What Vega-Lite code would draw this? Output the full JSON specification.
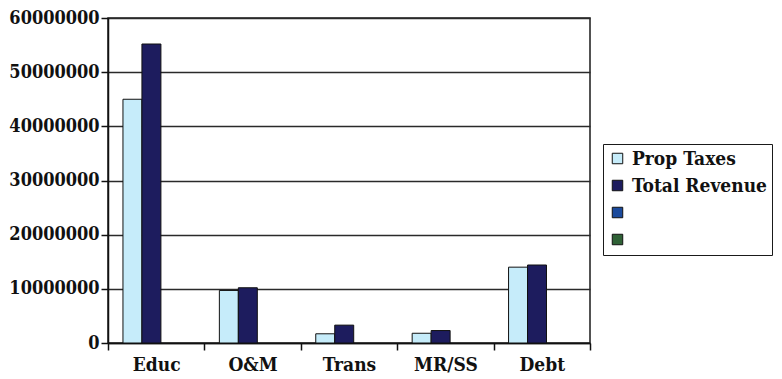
{
  "$schema": "https://vega.github.io/schema/vega-lite/v6.json",
  "width": 482,
  "height": 325,
  "autosize": {"type": "none"},
  "padding": {"left": 108, "top": 18, "right": 192, "bottom": 36},
  "background": "white",
  "config": {
    "view": {"stroke": "#1a1a1a", "strokeWidth": 1.5},
    "font": "DejaVu Serif Condensed",
    "legend": {"strokeColor": "#1a1a1a", "fillColor": "white"}
  },
  "data": {
    "values": [
      {"fund": "Educ", "series": "Prop Taxes", "amount": 45000000},
      {"fund": "Educ", "series": "Total Revenue", "amount": 55200000},
      {"fund": "O&M", "series": "Prop Taxes", "amount": 9700000},
      {"fund": "O&M", "series": "Total Revenue", "amount": 10200000},
      {"fund": "Trans", "series": "Prop Taxes", "amount": 1700000},
      {"fund": "Trans", "series": "Total Revenue", "amount": 3300000},
      {"fund": "MR/SS", "series": "Prop Taxes", "amount": 1800000},
      {"fund": "MR/SS", "series": "Total Revenue", "amount": 2300000},
      {"fund": "Debt", "series": "Prop Taxes", "amount": 14000000},
      {"fund": "Debt", "series": "Total Revenue", "amount": 14400000}
    ]
  },
  "mark": {"type": "bar", "stroke": "#111111", "strokeWidth": 1},
  "encoding": {
    "x": {
      "field": "fund",
      "type": "nominal",
      "sort": ["Educ", "O&M", "Trans", "MR/SS", "Debt"],
      "scale": {"paddingInner": 0, "paddingOuter": 0},
      "axis": {
        "title": null,
        "labelAngle": 0,
        "tickBand": "extent",
        "domainColor": "#111111",
        "domainWidth": 1.5,
        "tickColor": "#111111",
        "tickWidth": 1.5,
        "tickSize": 7,
        "labelFont": "DejaVu Serif Condensed",
        "labelFontWeight": "bold",
        "labelFontSize": 19,
        "labelColor": "#111111",
        "labelPadding": 5
      }
    },
    "xOffset": {
      "field": "series",
      "type": "nominal",
      "scale": {
        "domain": ["Prop Taxes", "Total Revenue", "Series3", "Series4"],
        "paddingInner": 0,
        "paddingOuter": 0.54,
        "align": 0.73
      }
    },
    "y": {
      "field": "amount",
      "type": "quantitative",
      "scale": {"domain": [0, 60000000], "nice": false},
      "axis": {
        "title": null,
        "values": [0, 10000000, 20000000, 30000000, 40000000, 50000000, 60000000],
        "format": "d",
        "gridColor": "#2a2a2a",
        "gridWidth": 1.5,
        "domainColor": "#111111",
        "domainWidth": 1.5,
        "tickColor": "#111111",
        "tickWidth": 1.5,
        "tickSize": 7,
        "labelFont": "DejaVu Serif Condensed",
        "labelFontWeight": "bold",
        "labelFontSize": 18,
        "labelColor": "#111111",
        "labelPadding": 2
      }
    },
    "color": {
      "field": "series",
      "type": "nominal",
      "scale": {
        "domain": ["Prop Taxes", "Total Revenue", "Series3", "Series4"],
        "range": ["#c6ecfa", "#1d1c5e", "#1b4a9c", "#2f6136"]
      },
      "legend": {
        "title": null,
        "orient": "none",
        "legendX": 495,
        "legendY": 126,
        "labelExpr": "datum.index < 2 ? datum.label : ''",
        "symbolType": "square",
        "symbolSize": 110,
        "symbolStrokeColor": "#111111",
        "symbolStrokeWidth": 1,
        "labelFont": "DejaVu Serif Condensed",
        "labelFontWeight": "bold",
        "labelFontSize": 19,
        "labelColor": "#111111",
        "labelOffset": 5,
        "labelLimit": 300,
        "rowPadding": 7,
        "padding": 5,
        "strokeColor": "#1a1a1a"
      }
    }
  }
}
